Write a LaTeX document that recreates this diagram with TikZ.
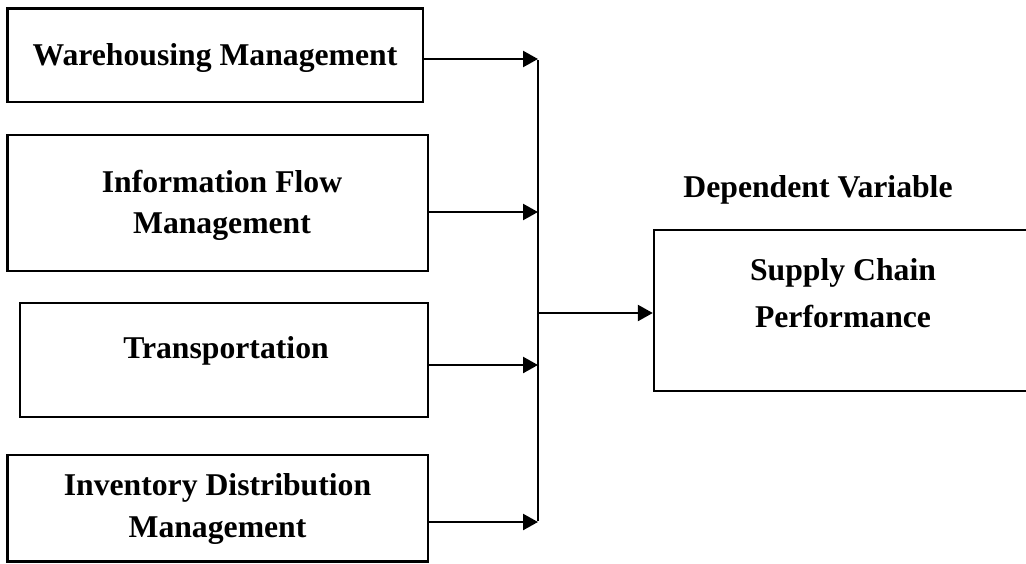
\documentclass[tikz,border=0pt]{standalone}
\usepackage{fontspec}
\setmainfont{Liberation Serif}
\usetikzlibrary{arrows.meta}
\begin{document}
\begin{tikzpicture}[x=1pt,y=-1pt,
  box/.style={draw=black, line width=2.4pt, rectangle, inner sep=0pt},
  lbl/.style={inner sep=0pt, anchor=base, font=\fontsize{31.7}{38}\selectfont\bfseries},
  arr/.style={draw=black, line width=2.4pt, -{Triangle[length=15pt,width=16pt]}},
  ln/.style={draw=black, line width=2.4pt}]
\useasboundingbox (0,0) rectangle (1026,563);
% left boxes
\node[box, minimum width=415.5pt, minimum height=93.5pt] (wm) at (215.25,55.25) {};
\node[box, minimum width=420.5pt, minimum height=135.7pt] (ifm) at (217.75,202.85) {};
\node[box, minimum width=408pt, minimum height=114pt] (tr) at (224,360) {};
\node[box, minimum width=420.5pt, minimum height=106.5pt] (idm) at (217.75,508.25) {};
% right box (its right side runs past the picture's edge)
\node[box, minimum width=380pt, minimum height=161pt] (scp) at (844,310.5) {};
% labels
\node[lbl] (t1) at (215,65) {Warehousing Management};
\node[lbl] (t2a) at (222,192) {Information Flow};
\node[lbl] (t2b) at (222,233) {Management};
\node[lbl] (t3) at (226,358) {Transportation};
\node[lbl] (t4a) at (217.5,495) {Inventory Distribution};
\node[lbl] (t4b) at (217.5,537) {Management};
\node[lbl] (dv) at (818,197) {Dependent Variable};
\node[lbl] (t5a) at (843,280) {Supply Chain};
\node[lbl] (t5b) at (843,327) {Performance};
% junction points
\coordinate (j1) at (538,59);
\coordinate (j2) at (538,212);
\coordinate (j3) at (538,365);
\coordinate (j4) at (538,522);
\coordinate (jm) at (538,313);
% connectors
\draw[arr] (wm.east |- j1) -- (j1);
\draw[arr] (ifm.east |- j2) -- (j2);
\draw[arr] (tr.east |- j3) -- (j3);
\draw[arr] (idm.east |- j4) -- (j4);
\draw[ln] ([yshift=-1.2pt]j1) -- ([yshift=1.2pt]j4);
\draw[arr] (jm) -- (scp.west |- jm);
\end{tikzpicture}
\end{document}
